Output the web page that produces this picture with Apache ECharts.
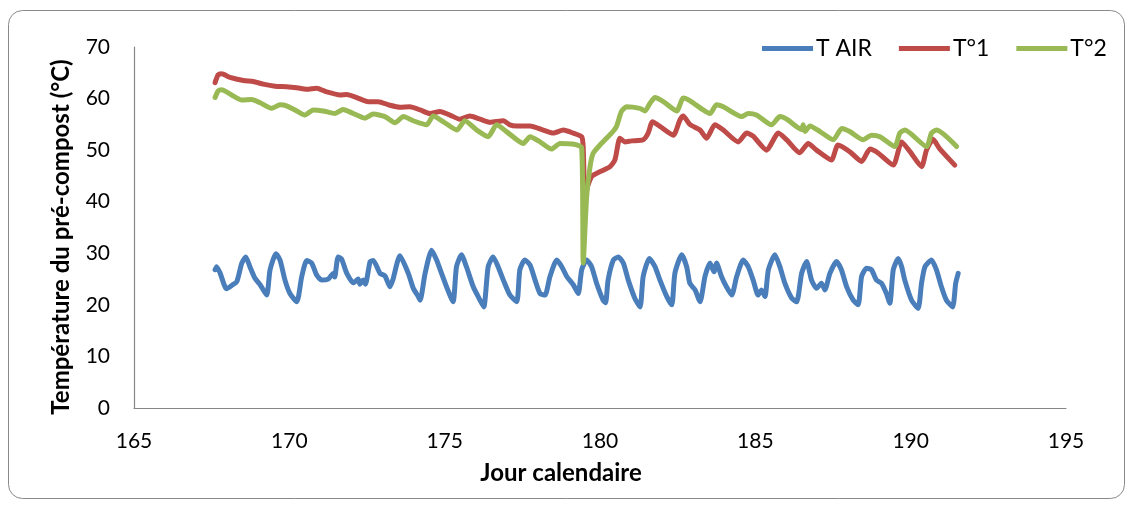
<!DOCTYPE html>
<html>
<head>
<meta charset="utf-8">
<script src="https://cdn.jsdelivr.net/npm/echarts@6/dist/echarts.min.js"></script>
<style>
html,body{margin:0;padding:0;background:#fff;}
#c{width:1132px;height:505px;}
</style>
</head>
<body>
<div id="c"></div>
<script>
// Jour calendaire / température (°C)
const tAir = [
[167.61,26.8],[167.66,27.4],[167.77,26.2],[167.98,23.1],[168.18,23.9],[168.31,24.5],[168.47,28.1],[168.60,29.3],[168.73,27.4],[168.89,25.2],
[169.06,23.9],[169.27,21.9],[169.38,26.8],[169.57,29.9],[169.70,28.7],[169.86,24.8],[170.02,22.2],[170.24,20.6],[170.40,25.5],[170.56,28.6],
[170.72,28.1],[170.88,25.8],[171.04,24.8],[171.25,25.0],[171.41,26.1],[171.46,25.4],[171.57,29.3],[171.68,28.9],[171.85,26.1],[172.06,24.3],
[172.22,25.0],[172.27,24.0],[172.38,24.8],[172.45,24.0],[172.60,28.4],[172.70,28.6],[172.92,26.1],[173.08,25.6],[173.24,23.5],[173.33,24.8],
[173.56,29.5],[173.83,26.1],[173.99,23.2],[174.15,21.6],[174.21,20.9],[174.37,26.1],[174.58,30.6],[174.74,28.7],[174.90,26.1],[175.06,23.5],
[175.27,20.6],[175.38,27.4],[175.54,29.7],[175.70,27.4],[175.92,23.5],[176.14,20.9],[176.26,19.6],[176.40,27.4],[176.56,29.3],[176.72,27.4],
[176.89,24.8],[177.10,21.9],[177.32,20.6],[177.42,26.8],[177.58,28.7],[177.75,27.7],[177.91,24.8],[178.07,22.2],[178.23,21.9],[178.39,25.5],
[178.61,28.7],[178.77,27.4],[178.93,25.5],[179.14,23.9],[179.30,22.2],[179.41,26.8],[179.57,28.7],[179.73,27.4],[179.89,24.2],[180.10,20.9],
[180.18,20.4],[180.26,24.8],[180.43,28.7],[180.59,29.3],[180.75,28.1],[180.91,24.8],[181.12,21.3],[181.29,19.6],[181.39,25.5],[181.59,29.0],
[181.77,27.4],[181.93,24.8],[182.15,21.6],[182.31,20.0],[182.41,26.1],[182.63,29.7],[182.79,27.4],[182.89,24.2],[183.06,22.9],[183.22,20.6],
[183.38,25.5],[183.54,28.1],[183.67,26.4],[183.75,28.1],[183.91,25.5],[184.07,23.5],[184.24,21.9],[184.40,25.5],[184.61,28.7],[184.77,27.4],
[184.93,24.8],[185.09,21.9],[185.20,22.9],[185.31,21.6],[185.42,26.8],[185.63,29.7],[185.79,27.4],[185.95,24.2],[186.17,21.3],[186.33,20.6],
[186.49,26.1],[186.65,28.4],[186.81,24.8],[186.97,23.2],[187.13,24.2],[187.24,22.9],[187.40,26.1],[187.61,28.4],[187.77,26.8],[187.94,23.5],
[188.15,20.9],[188.31,20.0],[188.42,25.5],[188.58,27.1],[188.74,26.8],[188.90,24.8],[189.06,24.2],[189.22,22.2],[189.33,20.3],[189.44,26.8],
[189.60,29.0],[189.71,27.4],[189.81,24.8],[190.03,20.9],[190.24,19.3],[190.35,24.2],[190.46,27.4],[190.67,28.7],[190.83,26.8],[190.99,23.5],
[191.15,20.9],[191.35,19.6],[191.45,24.2],[191.53,26.1]
];
const t1 = [
[167.61,63.1],[167.71,64.6],[167.82,64.8],[168.09,64.1],[168.52,63.5],[168.84,63.3],[169.16,62.8],[169.54,62.4],[169.91,62.3],[170.24,62.1],
[170.56,61.8],[170.88,62.0],[171.20,61.3],[171.63,60.7],[171.85,60.8],[172.17,60.2],[172.54,59.4],[172.86,59.4],[173.24,58.7],[173.56,58.3],
[173.88,58.4],[174.21,57.8],[174.53,57.1],[174.85,57.5],[175.17,56.8],[175.49,56.0],[175.81,56.6],[176.14,56.0],[176.46,55.4],[176.89,55.7],
[177.10,54.9],[177.32,54.7],[177.75,54.7],[178.17,53.9],[178.49,53.3],[178.82,53.9],[179.14,53.3],[179.41,52.6],[179.46,50.5],[179.52,38.0],
[179.57,42.3],[179.73,44.9],[179.89,45.5],[180.32,46.8],[180.48,48.1],[180.64,52.3],[180.80,51.6],[181.02,51.8],[181.39,52.0],[181.55,53.3],
[181.69,55.5],[181.93,54.6],[182.36,52.9],[182.57,55.8],[182.68,56.6],[182.89,55.0],[183.22,53.9],[183.43,52.3],[183.70,54.9],[183.97,53.9],
[184.45,51.6],[184.72,53.3],[184.93,52.7],[185.36,50.0],[185.74,53.3],[186.01,52.0],[186.43,49.5],[186.70,51.3],[186.97,50.0],[187.45,48.1],
[187.66,51.0],[188.04,49.7],[188.42,47.8],[188.69,50.2],[188.96,49.4],[189.44,47.1],[189.71,51.6],[189.98,49.7],[190.35,46.8],[190.51,50.0],
[190.72,52.1],[190.93,50.3],[191.42,47.1]
];
const t2 = [
[167.61,60.2],[167.71,61.5],[167.82,61.7],[168.14,60.7],[168.47,59.7],[168.79,59.8],[169.06,59.2],[169.43,58.1],[169.70,58.8],[169.91,58.6],
[170.24,57.6],[170.50,56.8],[170.77,57.8],[171.09,57.6],[171.47,57.1],[171.73,57.9],[172.06,57.1],[172.43,56.2],[172.70,57.0],[173.08,56.5],
[173.40,55.3],[173.67,56.5],[173.99,55.7],[174.42,54.9],[174.63,56.6],[174.96,55.5],[175.39,53.9],[175.65,55.7],[176.03,53.9],[176.40,52.6],
[176.67,54.9],[176.99,53.6],[177.53,51.3],[177.75,52.6],[178.07,51.6],[178.44,50.2],[178.71,51.3],[179.09,51.2],[179.41,50.5],[179.46,28.1],
[179.57,41.0],[179.68,46.8],[179.78,49.4],[180.00,51.0],[180.37,53.3],[180.53,54.6],[180.69,57.5],[180.85,58.4],[181.28,58.1],[181.45,57.6],
[181.61,59.1],[181.77,60.2],[182.04,59.4],[182.47,57.6],[182.68,60.1],[182.89,59.6],[183.32,57.8],[183.54,57.1],[183.75,58.8],[183.97,58.4],
[184.56,56.5],[184.77,57.1],[185.04,56.8],[185.52,54.9],[185.79,56.5],[186.01,56.0],[186.49,54.0],[186.54,54.9],[186.60,53.6],[186.76,54.7],
[187.08,53.6],[187.51,52.0],[187.78,54.2],[188.04,53.6],[188.47,52.0],[188.74,52.9],[189.01,52.6],[189.49,50.7],[189.65,53.3],[189.81,53.9],
[190.51,50.7],[190.67,53.3],[190.83,53.9],[191.48,50.7]
];
const seriesNames = ['T AIR', 'T°1', 'T°2'];
const xTicks = [165, 170, 175, 180, 185, 190, 195];
const yTicks = [0, 10, 20, 30, 40, 50, 60, 70];

const FONT = 'Lato, "Open Sans", sans-serif';
const colors = ['#4A7EBB', '#BE4B48', '#98B954'];
const chart = echarts.init(document.getElementById('c'), null, {renderer: 'canvas'});
const mk = (name, data, color) => ({
  name, type: 'line', data, showSymbol: false, symbol: 'none', smooth: 0.2,
  lineStyle: {width: 5, color, cap: 'round', join: 'round'},
  itemStyle: {color}, animation: false
});
chart.setOption({
  animation: false,
  backgroundColor: '#fff',
  grid: {left: 134, right: 66, top: 47, bottom: 97, containLabel: false},
  legend: {
    data: seriesNames, left: 757, top: 32, itemWidth: 51, itemHeight: 5, itemGap: 27,
    icon: 'rect',
    textStyle: {fontFamily: FONT, fontSize: 23, color: '#000', padding: [0, 0, 0, -2]}
  },
  xAxis: {
    type: 'value', min: xTicks[0], max: xTicks[xTicks.length - 1], interval: 5,
    axisLine: {show: true, lineStyle: {color: '#868686', width: 1.2}},
    axisTick: {show: false}, splitLine: {show: false},
    axisLabel: {fontFamily: FONT, fontSize: 21, color: '#000', margin: 23}
  },
  yAxis: {
    type: 'value', min: yTicks[0], max: yTicks[yTicks.length - 1], interval: 10,
    axisLine: {show: true, lineStyle: {color: '#868686', width: 1.2}},
    axisTick: {show: false}, splitLine: {show: false},
    axisLabel: {fontFamily: FONT, fontSize: 21, color: '#000', margin: 24}
  },
  graphic: [
    {type: 'rect', z: -1, shape: {x: 8.5, y: 10.5, width: 1116, height: 488, r: 14},
      style: {fill: 'none', stroke: '#898989', lineWidth: 1}},
    {type: 'text', x: 561, y: 473, style: {text: 'Jour calendaire', font: 'bold 24px ' + FONT, fill: '#000', align: 'center', verticalAlign: 'middle'}},
    {type: 'text', x: 61, y: 237, rotation: Math.PI / 2, style: {text: 'Température du pré-compost (°C)', font: 'bold 24px ' + FONT, fill: '#000', align: 'center', verticalAlign: 'middle'}}
  ],
  series: [mk(seriesNames[0], tAir, colors[0]), mk(seriesNames[1], t1, colors[1]), mk(seriesNames[2], t2, colors[2])]
});
</script>
</body>
</html>
